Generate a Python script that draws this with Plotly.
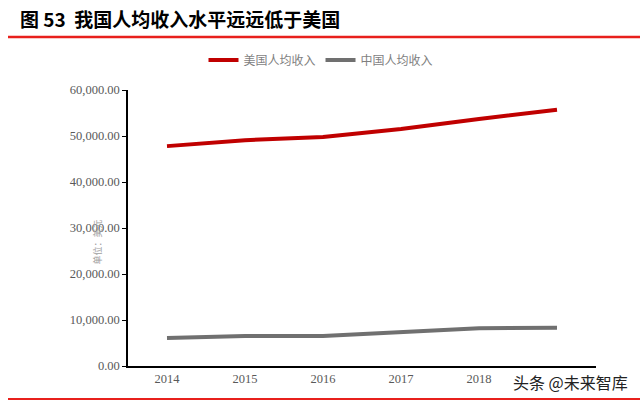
import plotly.graph_objects as go

years = ["2014", "2015", "2016", "2017", "2018", "2019"]
tick_labels = ["2014", "2015", "2016", "2017", "2018", ""]
us_income = [47800, 49100, 49800, 51500, 53700, 55700]
cn_income = [6100, 6500, 6500, 7400, 8200, 8300]
y_ticks = [0, 10000, 20000, 30000, 40000, 50000, 60000]

fig = go.Figure()
fig.add_trace(go.Scatter(x=years, y=us_income, mode="lines", name="美国人均收入",
                         line=dict(color="#C00000", width=4)))
fig.add_trace(go.Scatter(x=years, y=cn_income, mode="lines", name="中国人均收入",
                         line=dict(color="#707070", width=4)))

tickfont = dict(family="Liberation Serif, serif", size=12.5, color="#595959")
PW, PH, L, T = 468, 276, 128, 90
fig.update_layout(
    width=640, height=402,
    margin=dict(l=L, r=44, t=T, b=36),
    paper_bgcolor="white", plot_bgcolor="white",
    showlegend=True,
    legend=dict(orientation="h", x=(321 - L) / PW, xanchor="center",
                y=1 + (T - 60) / PH, yanchor="middle",
                font=dict(family="Noto Sans CJK SC", size=12, color="#7f7f7f"),
                tracegroupgap=0),
    xaxis=dict(type="category", tickvals=years, ticktext=tick_labels, range=[-0.5, 5.5],
               showline=True, linecolor="black", linewidth=1.5,
               showgrid=False, ticks="", tickfont=tickfont, zeroline=False),
    yaxis=dict(range=[0, 60000], tickvals=y_ticks, tickformat=",.2f",
               showline=True, linecolor="black", linewidth=1.5,
               showgrid=False, ticks="outside", ticklen=4, tickcolor="black",
               tickfont=tickfont, zeroline=False),
)

fig.add_annotation(xref="paper", yref="paper", x=(88 - L) / PW, y=1 - (242 - T) / PH,
                   text="单位：美元", textangle=-90, showarrow=False,
                   font=dict(family="Noto Sans CJK SC", size=9, color="#a0a0a0"))

fig.add_annotation(xref="paper", yref="paper", x=(18 - L) / PW, xanchor="left",
                   y=1 + (T - 19) / PH, yanchor="middle",
                   text="<b>图 53  我国人均收入水平远远低于美国</b>", showarrow=False,
                   font=dict(family="Noto Sans CJK SC", size=19, color="black"))
fig.add_shape(type="line", xref="paper", yref="paper", x0=(8 - L) / PW, x1=(640 - L) / PW,
              y0=1 + (T - 37) / PH, y1=1 + (T - 37) / PH, line=dict(color="#E8201C", width=2.5))
fig.add_shape(type="line", xref="paper", yref="paper", x0=(8 - L) / PW, x1=(640 - L) / PW,
              y0=-(399 - T - PH) / PH, y1=-(399 - T - PH) / PH, line=dict(color="#E8201C", width=2))
fig.add_annotation(xref="paper", yref="paper", x=(630 - L) / PW, xanchor="right",
                   y=-(382 - T - PH) / PH, yanchor="middle", text="头条 @未来智库", showarrow=False,
                   bgcolor="white",
                   font=dict(family="Noto Sans CJK SC", size=16, color="#222222"))

fig.write_html("out.html")
